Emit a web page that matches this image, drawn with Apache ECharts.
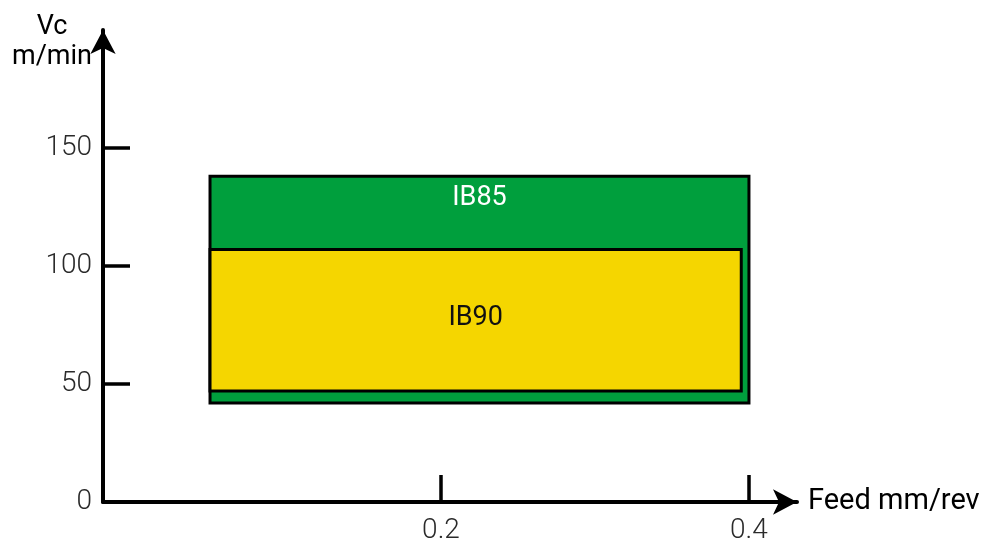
<!DOCTYPE html>
<html>
<head>
<meta charset="utf-8">
<script src="https://cdn.jsdelivr.net/npm/echarts@6/dist/echarts.min.js"></script>
<style>html,body{margin:0;padding:0;background:#fff;}#main{width:989px;height:545px;}</style>
</head>
<body>
<div id="main"></div>
<script>
// Data
const grades = ['IB85', 'IB90'];
const feedMin = [0.05, 0.05];
const feedMax = [0.40, 0.395];
const vcMin = [42, 47];
const vcMax = [138, 107];
const fillColors = ['#009F3D', '#F5D600'];
const labelColors = ['#ffffff', '#111111'];
const xTickValues = [0.2, 0.4];
const yTickValues = [50, 100, 150];
const yLabelValues = [0, 50, 100, 150];

const chart = echarts.init(document.getElementById('main'));
const rectData = grades.map((g, i) => [feedMin[i], feedMax[i], vcMin[i], vcMax[i], i]);

chart.setOption({
  animation: false,
  grid: { left: 103, right: 192, top: 30, bottom: 43, containLabel: false },
  xAxis: {
    type: 'value', min: -0.0195, max: 0.4312,
    name: 'Feed mm/rev', nameLocation: 'end', nameGap: 11,
    nameTextStyle: { color: '#000', fontSize: 29, fontFamily: 'Roboto', align: 'left', verticalAlign: 'middle', padding: [6, 0, 0, 0] },
    axisLine: { show: true, onZero: false, lineStyle: { color: '#000', width: 4 }, symbol: ['none', 'arrow'], symbolSize: [19, 24] },
    axisTick: { show: true, inside: true, length: 27, customValues: xTickValues, lineStyle: { color: '#000', width: 3.5 } },
    axisLabel: { show: true, customValues: xTickValues, margin: 15, color: '#2a2a2a', fontSize: 28, fontFamily: 'Roboto', fontWeight: 300 },
    splitLine: { show: false }
  },
  yAxis: {
    type: 'value', min: 0, max: 200,
    name: 'Vc\nm/min', nameLocation: 'end', nameGap: 18,
    nameTextStyle: { color: '#000', fontSize: 27, lineHeight: 30, fontFamily: 'Roboto', align: 'center', verticalAlign: 'top', padding: [0, 102, 0, 0] },
    axisLine: { show: true, onZero: false, lineStyle: { color: '#000', width: 4 }, symbol: ['none', 'arrow'], symbolSize: [19, 24] },
    axisTick: { show: true, inside: true, length: 27, customValues: yTickValues, lineStyle: { color: '#000', width: 3.5 } },
    axisLabel: { show: true, customValues: yLabelValues, margin: 11, color: '#2a2a2a', fontSize: 28, fontFamily: 'Roboto', fontWeight: 300 },
    splitLine: { show: false }
  },
  series: [{
    type: 'custom',
    coordinateSystem: 'cartesian2d',
    data: rectData,
    encode: { x: [0, 1], y: [2, 3] },
    renderItem: function (params, api) {
      const i = api.value(4);
      const p0 = api.coord([api.value(0), api.value(3)]);
      const p1 = api.coord([api.value(1), api.value(2)]);
      const w = p1[0] - p0[0], h = p1[1] - p0[1];
      const isTop = i === 0;
      return {
        type: 'group',
        children: [
          { type: 'rect', shape: { x: p0[0], y: p0[1], width: w, height: h },
            style: { fill: fillColors[i], stroke: '#000', lineWidth: 3 } },
          { type: 'text', x: p0[0] + w / 2, y: isTop ? p0[1] + 22 : p0[1] + h / 2 - 2,
            style: { text: grades[i], fill: labelColors[i], fontSize: 27, fontFamily: 'Roboto', fontWeight: 400, align: 'center', verticalAlign: 'middle' } }
        ]
      };
    }
  }]
});
</script>
</body>
</html>
